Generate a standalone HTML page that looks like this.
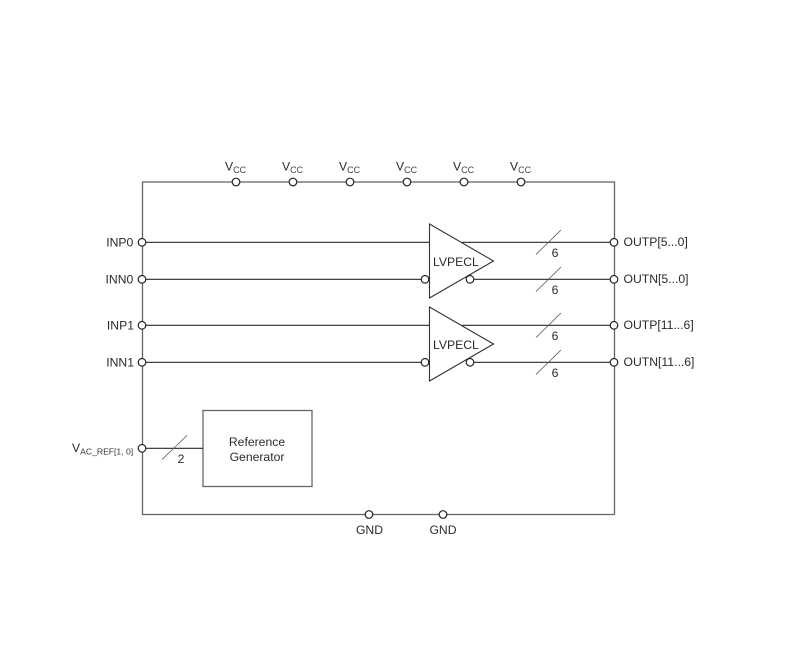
<!DOCTYPE html>
<html>
<head>
<meta charset="utf-8">
<style>
html,body{margin:0;padding:0;background:#fff;}
svg{display:block;}
text{font-family:"Liberation Sans",sans-serif;font-size:12.2px;fill:#2a2a2a;}
.s{font-size:9px;fill:#444;}
.t{font-size:8.6px;fill:#333;}
</style>
</head>
<body>
<svg width="809" height="668" viewBox="0 0 809 668" xmlns="http://www.w3.org/2000/svg">
<g fill="none" stroke="#666" stroke-width="1.3">
<rect x="142.5" y="182" width="472" height="332.5"/>
<rect x="203" y="410.5" width="109" height="76"/>
</g>
<g fill="none" stroke="#2a2a2a" stroke-width="1.1">
<line x1="142" y1="242.3" x2="430" y2="242.3"/>
<line x1="142" y1="279.3" x2="430" y2="279.3"/>
<line x1="142" y1="325.3" x2="430" y2="325.3"/>
<line x1="142" y1="362.3" x2="430" y2="362.3"/>
<line x1="462" y1="242.3" x2="614" y2="242.3"/>
<line x1="470" y1="279.3" x2="614" y2="279.3"/>
<line x1="462" y1="325.3" x2="614" y2="325.3"/>
<line x1="470" y1="362.3" x2="614" y2="362.3"/>
<line x1="142" y1="448.3" x2="203" y2="448.3"/>
</g>
<g fill="#fff" stroke="#333" stroke-width="1.1">
<polygon points="429.5,224 493.5,261 429.5,298"/>
<polygon points="429.5,307 493.5,344 429.5,381"/>
</g>
<g fill="none" stroke="#555" stroke-width="0.8">
<line x1="536" y1="254.5" x2="561" y2="230"/>
<line x1="536" y1="291.5" x2="561" y2="267"/>
<line x1="536" y1="337.5" x2="561" y2="313"/>
<line x1="536" y1="374.5" x2="561" y2="350"/>
<line x1="162" y1="459.5" x2="187" y2="435.5"/>
</g>
<g fill="#fff" stroke="#222" stroke-width="1.2">
<circle cx="236" cy="182" r="3.8"/>
<circle cx="293" cy="182" r="3.8"/>
<circle cx="350" cy="182" r="3.8"/>
<circle cx="407" cy="182" r="3.8"/>
<circle cx="464" cy="182" r="3.8"/>
<circle cx="521" cy="182" r="3.8"/>
<circle cx="142" cy="242.3" r="3.8"/>
<circle cx="142" cy="279.3" r="3.8"/>
<circle cx="142" cy="325.3" r="3.8"/>
<circle cx="142" cy="362.3" r="3.8"/>
<circle cx="142" cy="448.3" r="3.8"/>
<circle cx="614" cy="242.3" r="3.8"/>
<circle cx="614" cy="279.3" r="3.8"/>
<circle cx="614" cy="325.3" r="3.8"/>
<circle cx="614" cy="362.3" r="3.8"/>
<circle cx="425" cy="279.3" r="3.8"/>
<circle cx="425" cy="362.3" r="3.8"/>
<circle cx="470" cy="279.3" r="3.8"/>
<circle cx="470" cy="362.3" r="3.8"/>
<circle cx="369" cy="514.5" r="3.8"/>
<circle cx="443" cy="514.5" r="3.8"/>
</g>
<text x="225" y="170.5">V<tspan class="s" dy="2.5">CC</tspan></text>
<text x="282" y="170.5">V<tspan class="s" dy="2.5">CC</tspan></text>
<text x="339" y="170.5">V<tspan class="s" dy="2.5">CC</tspan></text>
<text x="396" y="170.5">V<tspan class="s" dy="2.5">CC</tspan></text>
<text x="453" y="170.5">V<tspan class="s" dy="2.5">CC</tspan></text>
<text x="510" y="170.5">V<tspan class="s" dy="2.5">CC</tspan></text>
<g text-anchor="end">
<text x="133.3" y="246.5">INP0</text>
<text x="133.3" y="283.5">INN0</text>
<text x="134" y="329.5">INP1</text>
<text x="134" y="366.5">INN1</text>
</g>
<text x="72" y="452">V<tspan class="t" dy="2.5">AC_REF[1, 0]</tspan></text>
<text x="623.5" y="246">OUTP[5...0]</text>
<text x="623.5" y="283">OUTN[5...0]</text>
<text x="623.5" y="329">OUTP[11...6]</text>
<text x="623.5" y="366">OUTN[11...6]</text>
<text x="433" y="266">LVPECL</text>
<text x="433" y="349">LVPECL</text>
<text x="555" y="257" text-anchor="middle">6</text>
<text x="555" y="294" text-anchor="middle">6</text>
<text x="555" y="340" text-anchor="middle">6</text>
<text x="555" y="377" text-anchor="middle">6</text>
<text x="181" y="463" text-anchor="middle">2</text>
<text x="257" y="446" text-anchor="middle">Reference</text>
<text x="257" y="461" text-anchor="middle">Generator</text>
<text x="369.5" y="534" text-anchor="middle">GND</text>
<text x="443" y="534" text-anchor="middle">GND</text>
</svg>
</body>
</html>
